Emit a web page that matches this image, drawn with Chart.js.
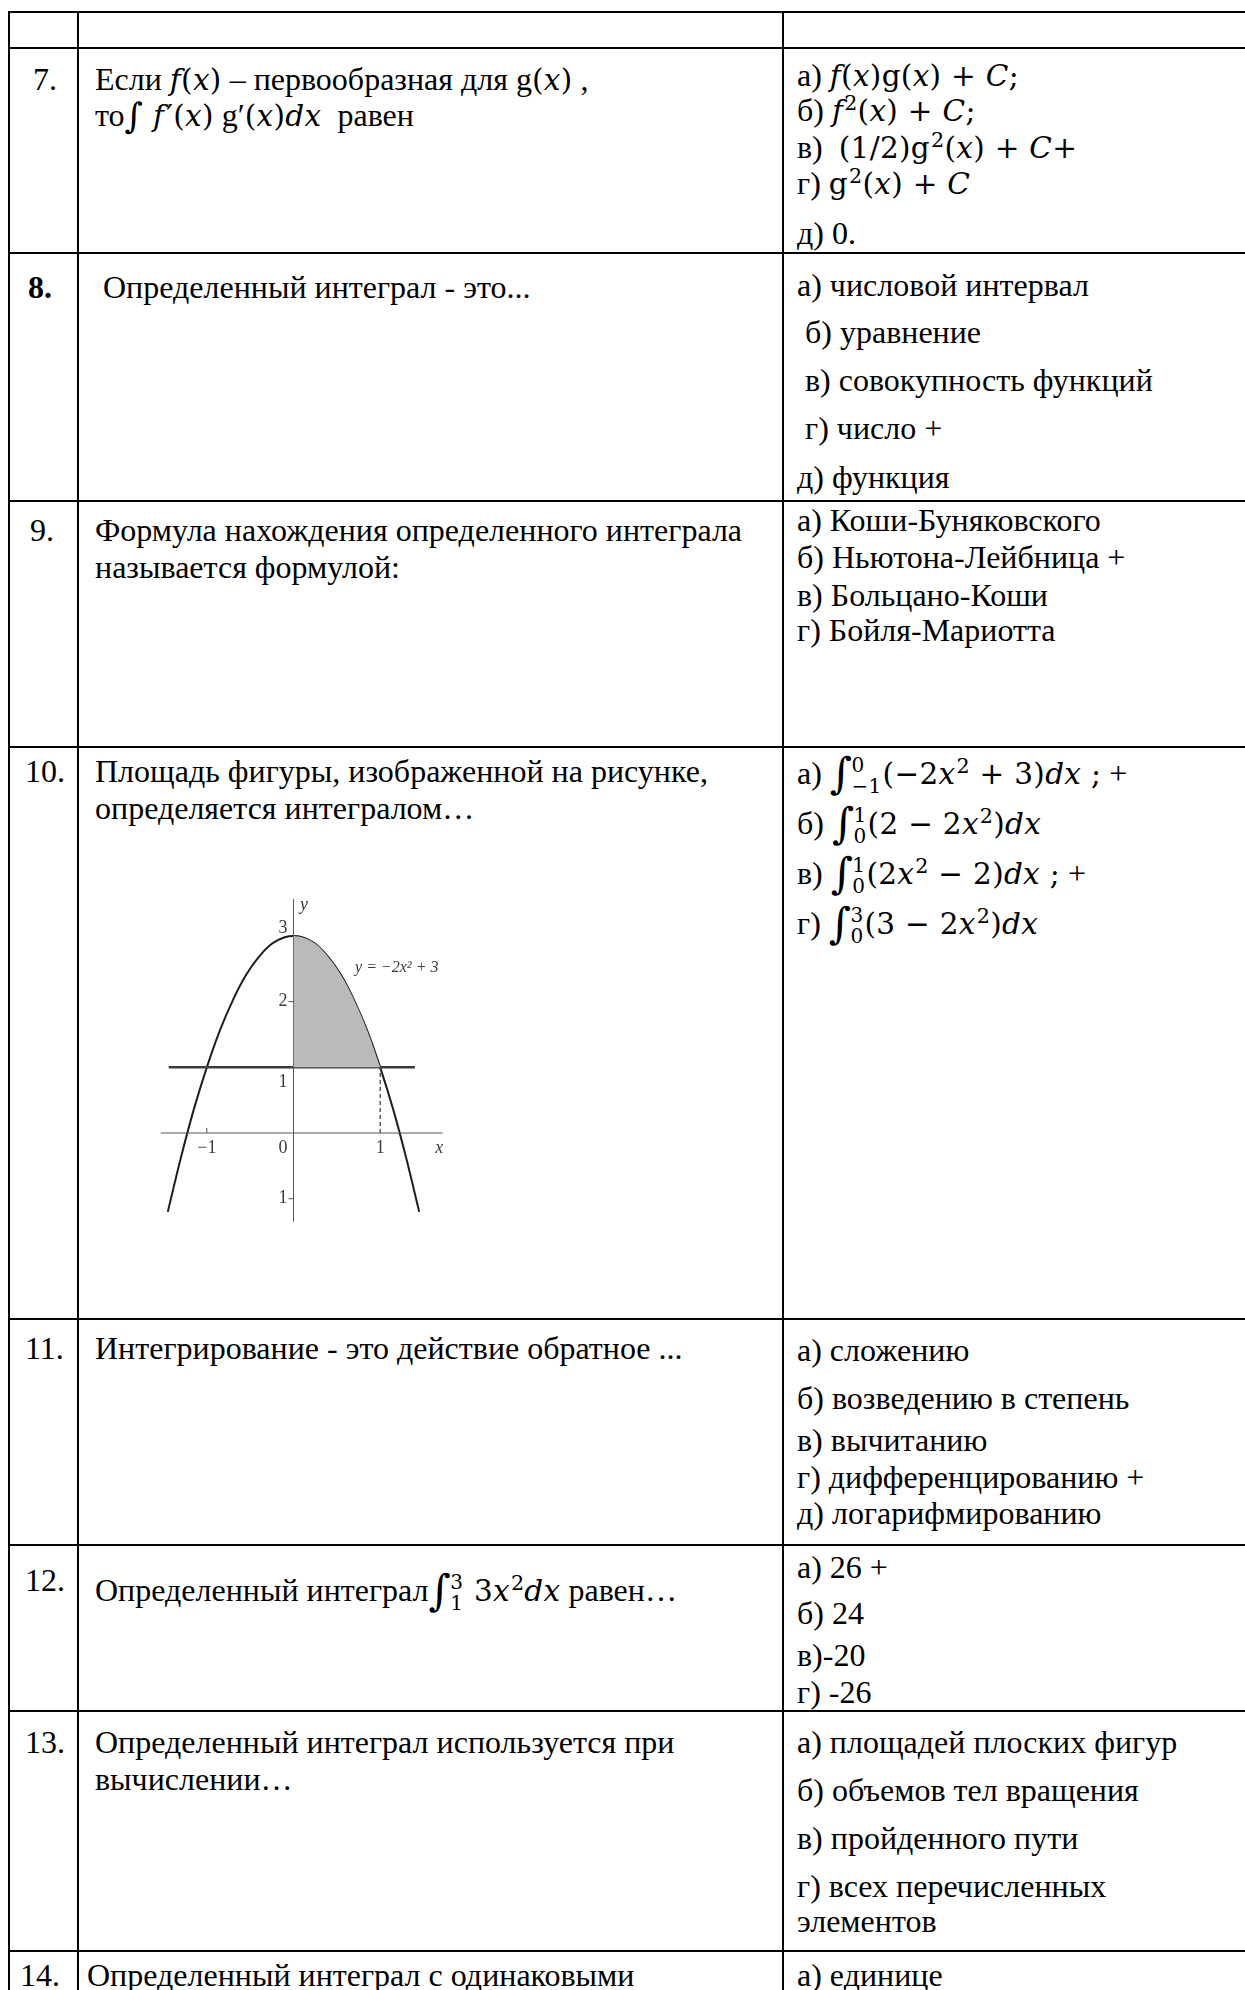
<!DOCTYPE html>
<html lang="ru">
<head>
<meta charset="utf-8">
<title>Тест: определенный интеграл</title>
<script src="https://cdn.jsdelivr.net/npm/chart.js@4.4.1/dist/chart.umd.min.js"></script>
<style>
  html, body { margin: 0; padding: 0; background: #fff; }
  body { width: 1245px; height: 1990px; position: relative; overflow: hidden;
         font-family: "Liberation Serif", "Times New Roman", serif; font-size: 32px; color: #000; }
  .hl { position: absolute; left: 8px; right: 0; height: 2px; background: #000; }
  .vl { position: absolute; top: 11px; bottom: 0; width: 2px; background: #000; }
  .t { position: absolute; line-height: 36px; white-space: nowrap; }
  .m { font-family: "DejaVu Serif", serif; font-size: 29.5px; letter-spacing: .3px; }
  .m i { font-style: italic; }
  .pr { margin-left: 2px; }
  sup { font-size: .7em; line-height: 0; position: relative; top: -.55em; vertical-align: baseline; margin-left: 1px; }
  .int { font-size: 1.45em; line-height: 0; position: relative; top: .1em; }
  .int.s { font-size: 1.2em; top: .05em; }
  .lim { display: inline-block; vertical-align: middle; font-size: .68em; line-height: 1.05; margin: 0 .05em 0 -.05em; }
  .lim span { display: block; }
  #plot { position: absolute; left: 160px; top: 885px; width: 310px; height: 345px; }
</style>
</head>
<body>
<div id="plot"><canvas id="parabola" width="310" height="345"></canvas></div>
<script>
// values in question 10
const curveX = [-1.45, -1.3, -1.15, -1, -0.85, -0.7, -0.55, -0.4, -0.25, -0.1, 0,
                0.1, 0.25, 0.4, 0.55, 0.7, 0.85, 1, 1.15, 1.3, 1.45];
const curveY = [-1.2, -0.38, 0.36, 1, 1.56, 2.02, 2.4, 2.68, 2.88, 2.98, 3,
                2.98, 2.88, 2.68, 2.4, 2.02, 1.56, 1, 0.36, -0.38, -1.2];
const shadeX = [0, 0.1, 0.25, 0.4, 0.55, 0.7, 0.85, 1];
const shadeY = [3, 2.98, 2.88, 2.68, 2.4, 2.02, 1.56, 1];
const levelX = [-1.44, 1.4];
const levelY = [1, 1];
const dropX = [1, 1];
const dropY = [0, 1];
const xAxisX = [-1.53, 1.72];
const xAxisY = [0, 0];
const yAxisX = [0, 0];
const yAxisY = [-1.35, 3.56];
const xRange = [-1.54, 2.036];
const yRange = [-1.476, 3.775];
const yTickMarks = [2, -1];
const xTickMarks = [-1];
const yLabelAt = [3.12, 2, 0.78, -1];
const yLabelText = ["3", "2", "1", "1"];
const xLabelAt = [-1, -0.12, 1, 1.68];
const xLabelText = ["\u22121", "0", "1", "x"];
const eqLabel = "y = \u22122x\u00B2 + 3";

// page text: [left, centre y, html]
const lim = (hi, lo) => `<span class="int">∫</span><span class="lim"><span>${hi}</span><span>${lo}</span></span>`;
const lines = [
  [33, 79, "7."],
  [95, 79, 'Если <span class="m"><i>f</i>(<i>x</i>)</span> – первообразная для g<span class="m">(<i>x</i>)</span> ,'],
  [95, 115, 'то<span class="m"><span class="int s">∫</span> <i>f</i><span class="pr">′</span>(<i>x</i>)</span> g′<span class="m">(<i>x</i>)<i>dx</i></span>&nbsp; равен'],
  [797, 75, 'а) <span class="m"><i>f</i>(<i>x</i>)g(<i>x</i>) + <i>C</i>;</span>'],
  [797, 110, 'б) <span class="m"><i>f</i><sup>2</sup>(<i>x</i>) + <i>C</i>;</span>'],
  [797, 147, 'в)&nbsp; <span class="m">(1/2)g<sup>2</sup>(<i>x</i>) + <i>C</i>+</span>'],
  [797, 183, 'г) <span class="m">g<sup>2</sup>(<i>x</i>) + <i>C</i></span>'],
  [797, 233, "д) 0."],

  [28, 287, "<b>8.</b>"],
  [103, 287, "Определенный интеграл - это..."],
  [797, 285, "а) числовой интервал"],
  [805, 332, "б) уравнение"],
  [805, 380, "в) совокупность функций"],
  [805, 428, "г) число +"],
  [797, 477, "д) функция"],

  [30, 530, "9."],
  [95, 530, "Формула нахождения определенного интеграла"],
  [95, 567, "называется формулой:"],
  [797, 520, "а) Коши-Буняковского"],
  [797, 557, "б) Ньютона-Лейбница +"],
  [797, 595, "в) Больцано-Коши"],
  [797, 630, "г) Бойля-Мариотта"],

  [25, 771, "10."],
  [95, 771, "Площадь фигуры, изображенной на рисунке,"],
  [95, 808, "определяется интегралом…"],
  [797, 773, 'а) <span class="m">' + lim("0", "−1") + '(−2<i>x</i><sup>2</sup> + 3)<i>dx</i> ;</span> +'],
  [797, 823, 'б) <span class="m">' + lim("1", "0") + '(2 − 2<i>x</i><sup>2</sup>)<i>dx</i></span>'],
  [797, 873, 'в) <span class="m">' + lim("1", "0") + '(2<i>x</i><sup>2</sup> − 2)<i>dx</i> ;</span> +'],
  [797, 923, 'г) <span class="m">' + lim("3", "0") + '(3 − 2<i>x</i><sup>2</sup>)<i>dx</i></span>'],

  [25, 1348, "11."],
  [95, 1348, "Интегрирование - это действие обратное ..."],
  [797, 1350, "а) сложению"],
  [797, 1398, "б) возведению в степень"],
  [797, 1440, "в) вычитанию"],
  [797, 1477, "г) дифференцированию +"],
  [797, 1513, "д) логарифмированию"],

  [25, 1580, "12."],
  [95, 1590, 'Определенный интеграл<span class="m">' + lim("3", "1") + ' 3<i>x</i><sup>2</sup><i>dx</i></span> равен…'],
  [797, 1567, "а) 26 +"],
  [797, 1613, "б) 24"],
  [797, 1655, "в)-20"],
  [797, 1692, "г) -26"],

  [25, 1742, "13."],
  [95, 1742, "Определенный интеграл используется при"],
  [95, 1779, "вычислении…"],
  [797, 1742, "а) площадей плоских фигур"],
  [797, 1790, "б) объемов тел вращения"],
  [797, 1838, "в) пройденного пути"],
  [797, 1886, "г) всех перечисленных"],
  [797, 1921, "элементов"],

  [20, 1975, "14."],
  [87, 1975, "Определенный интеграл с одинаковыми"],
  [797, 1975, "а) единице"]
];
const rowLines = [12, 48, 253, 501, 747, 1319, 1545, 1711, 1951];
const colLines = [9, 78, 783];

rowLines.forEach(y => {
  const d = document.createElement("div");
  d.className = "hl";
  d.style.top = (y - 1) + "px";
  document.body.appendChild(d);
});
colLines.forEach(x => {
  const d = document.createElement("div");
  d.className = "vl";
  d.style.left = (x - 1) + "px";
  document.body.appendChild(d);
});
lines.forEach(([x, y, html]) => {
  const d = document.createElement("div");
  d.className = "t";
  d.style.left = x + "px";
  d.style.top = (y - 18) + "px";
  d.innerHTML = html;
  document.body.appendChild(d);
});

const pts = (xs, ys) => xs.map((x, i) => ({ x: x, y: ys[i] }));

// ticks, tick labels and the equation, placed through the chart scales
const axisLabels = {
  id: "axisLabels",
  afterDatasetsDraw(chart) {
    const c = chart.ctx, sx = chart.scales.x, sy = chart.scales.y;
    const x0 = sx.getPixelForValue(0), y0 = sy.getPixelForValue(0);
    c.save();
    c.strokeStyle = "#555";
    c.lineWidth = 1;
    yTickMarks.forEach(v => {
      const py = sy.getPixelForValue(v);
      c.beginPath(); c.moveTo(x0 - 5, py); c.lineTo(x0, py); c.stroke();
    });
    xTickMarks.forEach(v => {
      const px = sx.getPixelForValue(v);
      c.beginPath(); c.moveTo(px, y0 - 5); c.lineTo(px, y0); c.stroke();
    });
    c.fillStyle = "#3a3a3a";
    c.font = "18px 'Liberation Serif'";
    c.textBaseline = "middle";
    c.textAlign = "right";
    yLabelAt.forEach((v, i) => c.fillText(yLabelText[i], x0 - 6, sy.getPixelForValue(v)));
    c.textAlign = "center";
    xLabelAt.forEach((v, i) => {
      if (xLabelText[i] === "x") c.font = "italic 18px 'Liberation Serif'";
      c.fillText(xLabelText[i], sx.getPixelForValue(v), y0 + 15);
    });
    c.font = "italic 18px 'Liberation Serif'";
    c.fillText("y", sx.getPixelForValue(0.12), sy.getPixelForValue(3.47));
    c.textAlign = "left";
    c.font = "italic 16px 'Liberation Serif'";
    c.fillText(eqLabel, sx.getPixelForValue(0.71), sy.getPixelForValue(2.51));
    c.restore();
  }
};

new Chart(document.getElementById("parabola").getContext("2d"), {
  type: "line",
  data: {
    datasets: [
      { data: pts(shadeX, shadeY), fill: { value: 1 }, backgroundColor: "#bababc",
        borderWidth: 0, pointRadius: 0, tension: 0.4 },
      { data: pts(xAxisX, xAxisY), borderColor: "#555", borderWidth: 1, pointRadius: 0 },
      { data: pts(yAxisX, yAxisY), borderColor: "#555", borderWidth: 1, pointRadius: 0 },
      { data: pts(dropX, dropY), borderColor: "#444", borderWidth: 1.3, borderDash: [4, 3], pointRadius: 0 },
      { data: pts(levelX, levelY), borderColor: "#3c3c3c", borderWidth: 2.5, pointRadius: 0 },
      { data: pts(curveX, curveY), borderColor: "#1e1e1e", borderWidth: 2, pointRadius: 0, tension: 0.4 }
    ]
  },
  options: {
    responsive: false,
    animation: false,
    devicePixelRatio: 1,
    layout: { padding: 0 },
    scales: {
      x: { type: "linear", min: xRange[0], max: xRange[1], display: false },
      y: { type: "linear", min: yRange[0], max: yRange[1], display: false }
    },
    plugins: { legend: { display: false }, tooltip: { enabled: false } }
  },
  plugins: [axisLabels]
});
</script>
</body>
</html>
